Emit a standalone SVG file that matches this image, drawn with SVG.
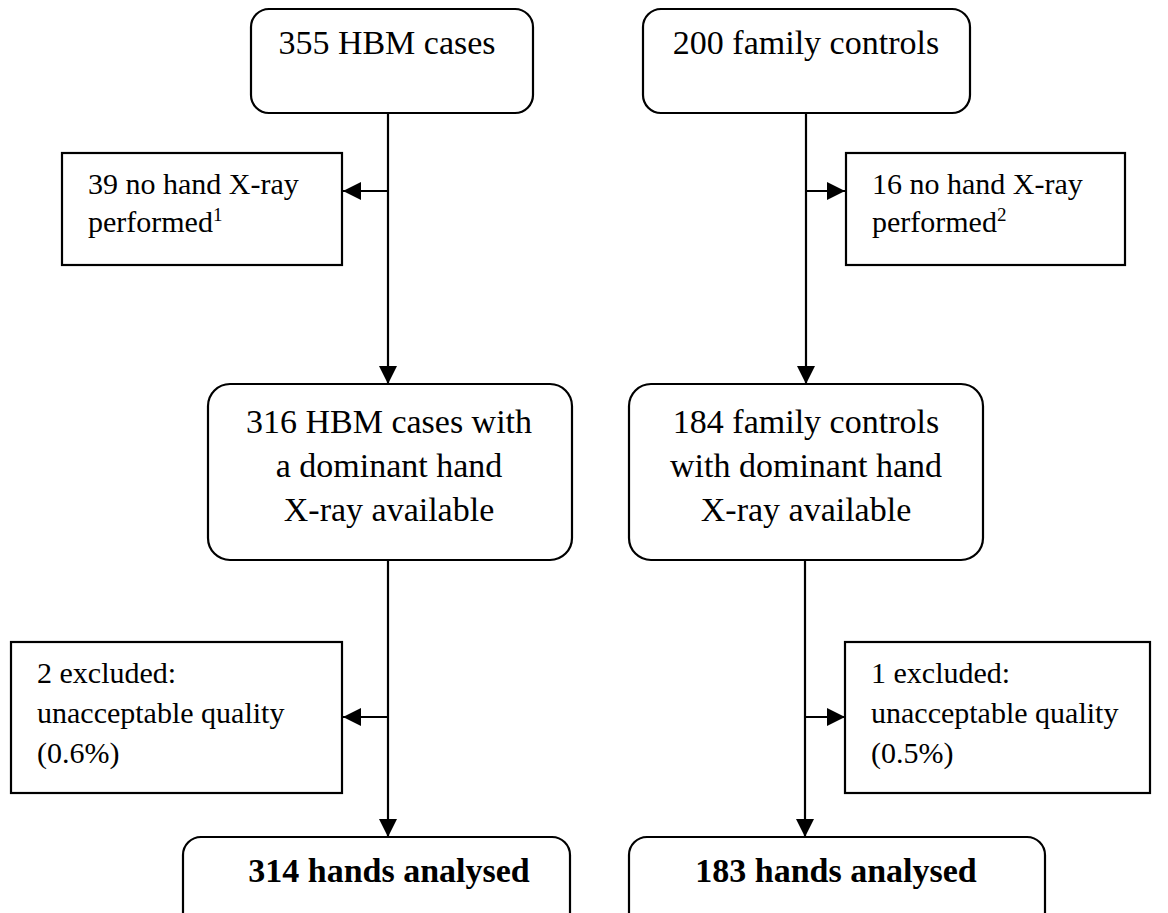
<svg xmlns="http://www.w3.org/2000/svg" width="1168" height="913" viewBox="0 0 1168 913">
<style>
.box{fill:#fff;stroke:#000;stroke-width:2.2}
.t{font-family:"Liberation Serif","Times New Roman",serif;font-size:34px;fill:#000;text-anchor:middle}
.s{font-family:"Liberation Serif","Times New Roman",serif;font-size:30px;fill:#000}
.b{font-family:"Liberation Serif","Times New Roman",serif;font-size:34px;font-weight:bold;fill:#000;text-anchor:middle}
.sup{font-size:19px}
.c{fill:none;stroke:#000;stroke-width:2.2}
</style>
<defs>
<marker id="ah" markerUnits="userSpaceOnUse" markerWidth="20" markerHeight="20" refX="18" refY="9" orient="auto">
<path d="M0,0 L18,9 L0,18 z" fill="#000"/>
</marker>
</defs>
<rect width="1168" height="913" fill="#fff"/>
<g id="connectors">
<path class="c" d="M388,113 L388,384" marker-end="url(#ah)"/>
<path class="c" d="M388,191 L343,191" marker-end="url(#ah)"/>
<path class="c" d="M806,113 L806,384" marker-end="url(#ah)"/>
<path class="c" d="M806,191 L845,191" marker-end="url(#ah)"/>
<path class="c" d="M388,560 L388,837" marker-end="url(#ah)"/>
<path class="c" d="M388,717 L343,717" marker-end="url(#ah)"/>
<path class="c" d="M805,560 L805,837" marker-end="url(#ah)"/>
<path class="c" d="M805,717 L845,717" marker-end="url(#ah)"/>
</g>
<g id="hbm-cases">
<rect class="box" x="251" y="9" width="282" height="104" rx="18"/>
<text class="t" x="387" y="54" font-size="33">355 HBM cases</text>
</g>
<g id="family-controls">
<rect class="box" x="643" y="9" width="327" height="104" rx="18"/>
<text class="t" x="806" y="54" font-size="33">200 family controls</text>
</g>
<g id="no-xray-cases">
<rect class="box" x="62" y="153" width="280" height="112"/>
<text class="s" x="88" y="194">39 no hand X-ray</text>
<text class="s" x="88" y="232">performed<tspan class="sup" dy="-11">1</tspan></text>
</g>
<g id="no-xray-controls">
<rect class="box" x="846" y="153" width="279" height="112"/>
<text class="s" x="872" y="194">16 no hand X-ray</text>
<text class="s" x="872" y="232">performed<tspan class="sup" dy="-11">2</tspan></text>
</g>
<g id="cases-available">
<rect class="box" x="208" y="384" width="364" height="176" rx="22"/>
<text class="t" x="389" y="433">316 HBM cases with</text>
<text class="t" x="389" y="477">a dominant hand</text>
<text class="t" x="389" y="521">X-ray available</text>
</g>
<g id="controls-available">
<rect class="box" x="629" y="384" width="354" height="176" rx="22"/>
<text class="t" x="806" y="433">184 family controls</text>
<text class="t" x="806" y="477">with dominant hand</text>
<text class="t" x="806" y="521">X-ray available</text>
</g>
<g id="excluded-cases">
<rect class="box" x="11" y="642" width="331" height="151"/>
<text class="s" x="37" y="683">2 excluded:</text>
<text class="s" x="37" y="723">unacceptable quality</text>
<text class="s" x="37" y="763">(0.6%)</text>
</g>
<g id="excluded-controls">
<rect class="box" x="845" y="642" width="305" height="151"/>
<text class="s" x="871" y="683">1 excluded:</text>
<text class="s" x="871" y="723">unacceptable quality</text>
<text class="s" x="871" y="763">(0.5%)</text>
</g>
<g id="cases-analysed">
<rect class="box" x="183" y="837" width="387" height="100" rx="18"/>
<text class="b" x="389" y="882">314 hands analysed</text>
</g>
<g id="controls-analysed">
<rect class="box" x="629" y="837" width="416" height="100" rx="18"/>
<text class="b" x="836" y="882">183 hands analysed</text>
</g>
</svg>
